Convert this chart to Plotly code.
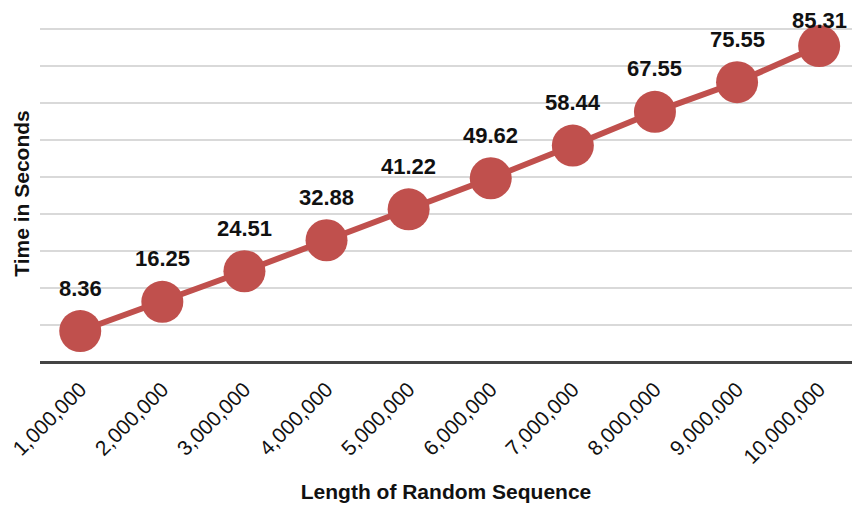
import plotly.graph_objects as go

lengths = ["1,000,000", "2,000,000", "3,000,000", "4,000,000", "5,000,000",
           "6,000,000", "7,000,000", "8,000,000", "9,000,000", "10,000,000"]
times = [8.36, 16.25, 24.51, 32.88, 41.22, 49.62, 58.44, 67.55, 75.55, 85.31]
labels = [f"{v:.2f}" for v in times]

idx = list(range(len(lengths)))
red = "#c0504d"
FONT = "Liberation Sans, Arial, sans-serif"

fig = go.Figure(go.Scatter(
    x=idx, y=times, mode="lines+markers",
    line=dict(color=red, width=6),
    marker=dict(color=red, size=42),
    cliponaxis=False, showlegend=False, hoverinfo="skip",
))

for i, (xv, yv, lab) in enumerate(zip(idx, times, labels)):
    last = i == len(idx) - 1
    fig.add_annotation(
        x=xv, y=yv, text=f"<b>{lab}</b>", showarrow=False,
        yshift=26 if last else 43,
        font=dict(family=FONT, size=22, color="#111"),
    )

fig.update_layout(
    width=852, height=509,
    margin=dict(l=40, r=0, t=25, b=147),
    plot_bgcolor="white", paper_bgcolor="white",
    font=dict(family=FONT, color="#111"),
    xaxis=dict(
        tickmode="array", tickvals=idx, ticktext=lengths, tickangle=-45,
        range=[-0.49, 9.4], showgrid=False, zeroline=False,
        showline=False, ticks="", ticklabelstandoff=10,
        tickfont=dict(size=21, color="#111"),
        title=dict(text="<b>Length of Random Sequence</b>", font=dict(size=21), standoff=17),
        automargin=False,
    ),
    yaxis=dict(
        range=[0, 91], tickmode="array", tickvals=[10, 20, 30, 40, 50, 60, 70, 80, 90],
        showticklabels=False, ticks="",
        showgrid=True, gridcolor="#d9d9d9", gridwidth=2,
        zeroline=True, zerolinecolor="#444", zerolinewidth=3,
        title=dict(text="<b>Time in Seconds</b>", font=dict(size=21), standoff=3),
        automargin=False,
    ),
)

fig.write_html("out.html", config={"displayModeBar": False},
               post_script="document.body.style.margin='0';document.body.style.overflow='hidden';")
